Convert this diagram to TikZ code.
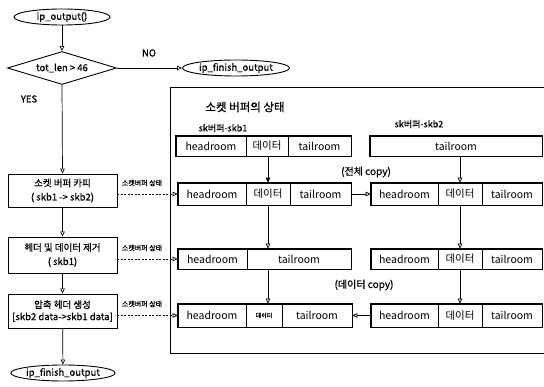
\documentclass[tikz,border=0pt]{standalone}
\usepackage{fontspec}
\setmainfont{Noto Sans CJK KR}[BoldFont={Noto Sans CJK KR},BoldFeatures={FakeBold=0.8}]
\usetikzlibrary{shapes.geometric,arrows.meta}

\begin{document}
\begin{tikzpicture}[x=1pt,y=-1pt,
  flow/.style={draw,line width=0.9pt,inner sep=0pt,align=center,
    font=\fontsize{9.5}{14}\selectfont\bfseries},
  term/.style={flow,ellipse,minimum height=16},
  proc/.style={flow,rectangle,minimum width=109},
  cell/.style={draw,line width=0.6pt,inner sep=0pt,font=\fontsize{10.5}{12}\selectfont},
  frame/.style={line width=1.3pt},
  ar/.style={-{Triangle[open,length=5pt,width=4.5pt]},line width=0.7pt},
  arf/.style={-{Triangle[length=5pt,width=4.5pt]},line width=0.7pt},
  link/.style={ar,dashed,dash pattern=on 2pt off 1.5pt},
  tag/.style={font=\fontsize{7}{8}\selectfont\bfseries,inner sep=0pt},
  lbl/.style={font=\fontsize{9.5}{11}\selectfont\bfseries,inner sep=0pt}]
\useasboundingbox (0,0) rectangle (544,387);

% ---- flowchart ----
\node[term,minimum width=96] (start) at (62,17) {ip\_output()};
\node[flow,diamond,aspect=3.3,minimum width=109,minimum height=33] (cond) at (62,68) {tot\_len > 46};
\node[term,minimum width=107] (fin1) at (236,68) {ip\_finish\_output};
\node[proc,minimum height=33] (b1) at (62.5,190.5) {소켓 버퍼 카피\\( skb1 -> skb2)};
\node[proc,minimum height=36] (b2) at (62.5,255) {헤더 및 데이터 제거\\( skb1)};
\node[proc,minimum height=34,font=\fontsize{9.5}{12}\selectfont\bfseries] (b3) at (62.5,311) {압축 헤더 생성\\{[}skb2 data->skb1 data{]}};
\node[term,minimum width=97] (fin2) at (63,373) {ip\_finish\_output};

\node[lbl] (no) at (149,53) {NO};
\node[lbl] (yes) at (29,99) {YES};

\draw[ar] (start) -- (cond);
\draw[ar] (cond.east) -- (fin1.west);
\draw[ar] (cond.south) -- (b1.north);
\draw[ar] (b1) -- (b2);
\draw[ar] (b2) -- (b3);
\draw[ar] (b3) -- (fin2);

% ---- socket buffer state panel ----
\draw[line width=0.9pt] (548,87) -- (170,87) -- (170,353) -- (548,353);
\node[font=\fontsize{11.5}{13}\selectfont\bfseries,inner sep=0pt] (title) at (245,107) {소켓 버퍼의 상태};
\node[font=\fontsize{9}{10}\selectfont\bfseries,inner sep=0pt] (n1) at (223,128) {sk버퍼-skb1};
\node[font=\fontsize{9}{10}\selectfont\bfseries,inner sep=0pt] (n2) at (419,124) {sk버퍼-skb2};

% row 1
\node[cell,minimum width=70,minimum height=20] (r1a) at (211,146) {headroom};
\node[cell,minimum width=42,minimum height=20] (r1b) at (267,146) {데이터};
\node[cell,minimum width=63,minimum height=20] (r1c) at (319.5,146) {tailroom};
\node[cell,minimum width=172,minimum height=20] (r1s) at (456,146) {tailroom};
\draw[frame] (r1a.north west) rectangle (r1c.south east);
\draw[frame] (r1s.north west) rectangle (r1s.south east);

% row 2
\node[cell,minimum width=68,minimum height=22] (r2a) at (212,194) {headroom};
\node[cell,minimum width=44,minimum height=22] (r2b) at (268,194) {데이터};
\node[cell,minimum width=61,minimum height=22] (r2c) at (320.5,194) {tailroom};
\node[cell,minimum width=67,minimum height=22] (r2d) at (404.5,194) {headroom};
\node[cell,minimum width=44,minimum height=22] (r2e) at (460,194) {데이터};
\node[cell,minimum width=60,minimum height=22] (r2f) at (512,194) {tailroom};
\draw[frame] (r2a.north west) rectangle (r2c.south east);
\draw[frame] (r2d.north west) rectangle (r2f.south east);

% row 3
\node[cell,minimum width=69,minimum height=20] (r3a) at (212.5,259) {headroom};
\node[cell,minimum width=104,minimum height=20] (r3b) at (299,259) {tailroom};
\node[cell,minimum width=67,minimum height=20] (r3d) at (404.5,259) {headroom};
\node[cell,minimum width=44,minimum height=20] (r3e) at (460,259) {데이터};
\node[cell,minimum width=60,minimum height=20] (r3f) at (512,259) {tailroom};
\draw[frame] (r3a.north west) rectangle (r3b.south east);
\draw[frame] (r3d.north west) rectangle (r3f.south east);

% row 4
\node[cell,minimum width=68,minimum height=23] (r4a) at (212,315.5) {headroom};
\node[cell,minimum width=36,minimum height=23,font=\fontsize{6}{7}\selectfont\bfseries] (r4b) at (264,315.5) {데이터};
\node[cell,minimum width=70,minimum height=23] (r4c) at (317,315.5) {tailroom};
\node[cell,minimum width=67,minimum height=23] (r4d) at (404.5,315.5) {headroom};
\node[cell,minimum width=44,minimum height=23] (r4e) at (460,315.5) {데이터};
\node[cell,minimum width=60,minimum height=23] (r4f) at (512,315.5) {tailroom};
\draw[frame] (r4a.north west) rectangle (r4c.south east);
\draw[frame] (r4d.north west) rectangle (r4f.south east);

\node[font=\fontsize{10}{12}\selectfont\bfseries,inner sep=0pt] (full) at (366,172) {(전체 copy)};
\node[font=\fontsize{10}{12}\selectfont\bfseries,inner sep=0pt] (dcopy) at (364,285) {(데이터 copy)};

% transitions between buffer states
\draw[arf] (r2b.north |- r1b.south) -- (r2b.north);
\draw[ar] (r2e.north |- r1s.south) -- (r2e.north);
\draw[ar] (r2b.south) -- (r2b.south |- r3b.north);
\draw[ar] (r2e.south) -- (r3e.north);
\draw[ar] (r2b.south |- r3b.south) -- (r2b.south |- r4b.north);
\draw[ar] (r3e.south) -- (r4e.north);
\draw[ar] (r2c.east) -- (r2d.west);
\draw[ar] (r4d.west) -- (r4c.east);

% links from each step to its buffer state
\draw[link] (b1.east |- r2a.west) -- (r2a.west);
\draw[link] (b2.east |- r3a.west) -- (r3a.west);
\draw[link] (b3.east |- r4a.west) -- (r4a.west);
\node[tag] (t1) at (142,183) {소켓버퍼 상태};
\node[tag] (t2) at (142,248) {소켓버퍼 상태};
\node[tag] (t3) at (142,304) {소켓버퍼 상태};
\end{tikzpicture}
\end{document}
